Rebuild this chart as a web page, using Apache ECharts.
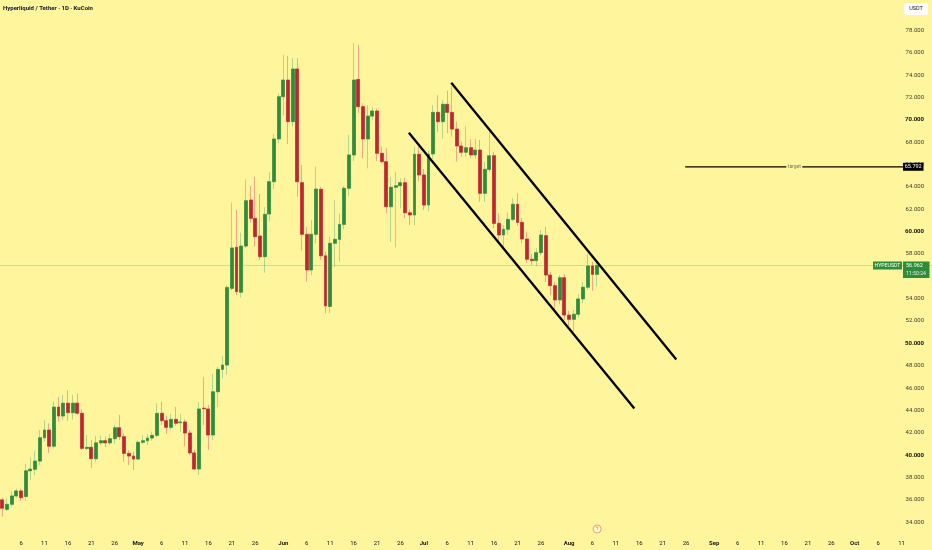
<!DOCTYPE html>
<html><head><meta charset="utf-8">
<script src="https://cdn.jsdelivr.net/npm/echarts@6/dist/echarts.min.js"></script>
<style>html,body{margin:0;padding:0;background:#fff59d}#c{width:932px;height:550px}</style>
</head><body><div id="c"></div>
<script>
// ---- data ----
const startDate = [2025, 3, 2];   // 2 Apr 2025 (month index 3)
const dayCount = 199;            // days shown on the time axis (candles + empty future space)
const lastLabelIndex = 192;      // time-axis labels stop before the price scale edge
const opens = [
 36.0,35.15,35.6,36.35,36.8,36.3,38.6,38.73,39.47,41.56,
 42.25,40.8,44.3,43.5,44.65,43.8,44.65,43.74,40.6,40.7,
 39.68,41.1,41.29,41.1,41.47,42.45,41.65,40.16,39.92,39.65,
 41.15,41.29,41.53,41.77,43.74,43.08,42.49,43.2,42.9,42.97,
 41.98,40.2,38.76,44.2,44.13,41.8,45.67,47.67,48.06,54.92,
 58.59,54.57,58.7,62.82,61.18,59.6,57.75,61.57,64.46,68.28,
 72.06,73.55,69.83,74.54,64.37,59.75,56.56,59.75,63.78,57.83,
 53.3,58.95,59.3,60.64,63.87,66.85,73.6,71.17,68.28,70.33,
 70.78,67.0,66.25,62.22,63.96,64.1,64.37,61.68,61.48,66.91,
 65.06,62.37,66.94,70.66,69.83,71.38,70.66,69.17,67.65,67.09,
 67.5,66.85,67.29,63.42,65.56,66.78,60.73,59.69,60.2,61.09,
 62.44,60.82,59.33,57.52,57.4,58.11,59.63,56.11,55.16,53.88,
 55.87,52.53,52.15,52.6,53.97,55.02,56.92,56.17];
const closes = [
 35.25,35.6,36.35,36.8,36.2,38.6,38.75,39.47,41.56,42.25,
 40.8,44.3,43.5,44.65,43.8,44.65,43.75,40.61,40.7,39.68,
 41.1,41.29,41.1,41.47,42.45,41.65,40.16,39.92,39.65,41.15,
 41.29,41.53,41.77,43.74,43.08,42.49,43.2,42.85,42.97,41.98,
 40.2,38.76,44.13,44.15,41.8,45.67,47.67,48.06,55.0,58.53,
 54.62,58.7,62.76,61.18,59.54,57.75,61.54,64.46,68.28,72.06,
 73.55,69.83,74.54,64.46,59.75,56.56,59.75,63.8,57.83,53.35,
 58.95,59.3,60.64,63.87,66.85,73.55,71.17,68.28,70.33,70.78,
 67.0,66.25,62.22,63.96,64.1,64.37,61.68,61.48,66.91,65.06,
 62.37,66.91,70.66,69.83,71.38,70.66,69.17,67.65,67.09,67.5,
 66.85,67.29,63.42,65.56,66.78,60.73,59.69,60.2,61.09,62.44,
 60.82,59.33,57.52,57.4,58.11,59.69,56.11,55.16,53.88,55.87,
 52.53,52.15,52.6,53.97,55.02,56.92,56.17,56.962];
const lows = [
 34.5,35.0,35.4,36.2,35.9,35.9,37.8,38.2,39.1,41.2,
 40.2,40.6,43.0,43.1,43.1,43.2,43.6,40.46,40.46,38.85,
 39.4,40.9,40.73,40.9,41.0,41.35,39.41,39.1,38.67,39.55,
 41.0,40.9,41.3,41.6,42.7,41.9,42.2,42.6,42.1,40.8,
 40.0,38.67,38.22,42.7,40.46,41.35,44.28,46.87,47.2,54.77,
 54.32,54.1,58.5,60.79,58.64,57.45,56.32,60.9,63.8,67.9,
 70.4,67.83,69.4,63.1,58.3,55.51,56.1,58.95,57.45,52.69,
 52.7,56.85,57.3,60.2,63.2,66.3,70.6,66.55,65.65,70.0,
 66.3,66.1,61.63,59.09,58.59,62.08,61.2,60.58,60.58,64.5,
 61.93,61.8,66.5,68.93,68.3,68.8,68.5,66.25,66.7,66.7,
 66.55,66.5,62.67,62.67,65.3,60.3,59.0,58.64,59.7,60.9,
 60.5,58.95,57.2,57.0,56.9,57.9,55.5,54.32,52.98,53.5,
 52.09,51.35,51.04,52.3,53.6,54.8,54.7,55.07];
const highs = [
 36.2,36.1,36.75,37.0,37.0,39.2,39.8,40.4,42.25,43.15,
 42.85,44.8,45.2,45.4,45.8,45.4,45.5,44.1,41.8,41.35,
 41.7,41.77,41.65,41.9,42.7,43.6,41.95,40.46,40.31,41.3,
 41.8,41.9,42.1,44.65,44.8,43.5,43.7,44.3,43.7,43.2,
 42.25,40.46,44.73,47.0,44.48,47.25,47.9,48.86,55.2,62.6,
 61.93,59.9,64.67,64.07,64.9,63.36,62.17,65.3,68.72,72.36,
 75.8,75.7,75.5,75.5,65.95,60.43,61.03,65.8,64.0,58.2,
 59.54,62.8,61.6,64.07,68.64,76.84,76.69,71.47,71.3,71.1,
 71.0,67.6,67.45,64.9,65.35,64.76,64.8,62.0,67.6,67.6,
 65.6,67.2,71.3,72.2,71.77,72.6,72.95,69.83,68.03,69.4,
 68.25,68.3,68.19,66.25,68.93,67.14,61.63,60.58,61.7,62.97,
 63.42,61.2,59.99,58.0,58.5,60.14,60.43,56.4,55.5,56.11,
 56.2,52.9,52.98,54.4,55.5,58.0,57.3,57.3];
const priceTicks = [34,36,38,40,42,44,46,48,50,52,54,56,58,60,62,64,66,68,70,72,74,76,78];
const boldTicks = [40,50,60,70];
const labelDays = [1,6,11,16,21,26];
const monthNames = ['Jan','Feb','Mar','Apr','May','Jun','Jul','Aug','Sep','Oct','Nov','Dec'];
// drawn lines, in [day index, price]
const upperChannel = [[95.85,73.31],[143.9,48.56]];
const lowerChannel = [[86.8,68.84],[134.95,44.18]];
const targetPrice = 65.792;
const targetLeft = [[145.8,targetPrice],[167.4,targetPrice]];
const targetRight = [[170.8,targetPrice],[192.3,targetPrice]];
const targetTextAt = [169.1,targetPrice];
const eventMark = [127,33.39];
const lastPrice = 56.962;
const symbolName = 'HYPEUSDT';
const countdown = '11:50:24';
const titleText = 'Hyperliquid / Tether · 1D · KuCoin';

// ---- build ----
const categories = [];
for (let i = 0; i < dayCount; i++) {
  const d = new Date(Date.UTC(startDate[0], startDate[1], startDate[2] + i));
  categories.push(d.getUTCFullYear() + '-' + String(d.getUTCMonth()+1).padStart(2,'0') + '-' + String(d.getUTCDate()).padStart(2,'0'));
}
const wickData = opens.map((o,i)=>[o, closes[i], lows[i], highs[i]]);
const bodyData = opens.map((o,i)=>[o, closes[i], Math.min(o,closes[i]), Math.max(o,closes[i])]);

const GREEN = '#2e8c3a', RED = '#c0262f', GW = '#b3d48a', RW = '#efa985';
const TXT = '#131722';
const FONT = 'Roboto, "Liberation Sans", sans-serif';

const chart = echarts.init(document.getElementById('c'));
chart.setOption({
  backgroundColor: '#fff59d',
  animation: false,
  textStyle: { fontFamily: FONT },
  grid: { left: -1, right: 0, top: 0, bottom: 20, containLabel: false },
  xAxis: [{
    type: 'category', data: categories, boundaryGap: true,
    axisLine: { show: false }, axisTick: { show: false }, splitLine: { show: false },
    axisLabel: {
      fontSize: 6, color: TXT, margin: 10, fontFamily: FONT,
      interval: (idx, val) => idx <= lastLabelIndex && labelDays.indexOf(+val.slice(8)) >= 0,
      formatter: (val) => {
        const day = +val.slice(8);
        if (day === 1) return '{m|' + monthNames[+val.slice(5,7)-1] + '}';
        return String(day);
      },
      rich: { m: { fontWeight: 'bold', fontSize: 6, color: TXT, fontFamily: FONT } }
    }
  }, {
    type: 'value', min: -0.5, max: dayCount - 0.5, show: false
  }],
  yAxis: {
    type: 'value', position: 'right', min: 33.305, max: 80.71, scale: true,
    axisLine: { show: false }, axisTick: { show: false }, splitLine: { show: false },
    axisLabel: {
      inside: true, margin: 8, fontSize: 6, color: '#3c3c30', fontFamily: FONT,
      customValues: priceTicks,
      formatter: (v) => boldTicks.indexOf(Math.round(v)) >= 0 ? '{b|' + v.toFixed(3) + '}' : v.toFixed(3),
      rich: { b: { fontWeight: 'bold', fontSize: 6, color: '#111', fontFamily: FONT } }
    }
  },
  series: [{
    type: 'candlestick', name: 'wick', data: wickData, barWidth: 3.4, z: 2,
    itemStyle: { color: GW, color0: RW, borderColor: GW, borderColor0: RW, borderWidth: 1 }
  }, {
    type: 'candlestick', name: 'body', data: bodyData, barWidth: 3.4, z: 3,
    itemStyle: { color: GREEN, color0: RED, borderColor: GREEN, borderColor0: RED, borderWidth: 0.6 },
    markLine: {
      silent: true, symbol: 'none', label: { show: false },
      lineStyle: { color: 'rgba(46,140,58,0.22)', width: 1, type: 'solid' },
      data: [{ yAxis: lastPrice }]
    }
  }, {
    type: 'line', xAxisIndex: 1, data: upperChannel, symbol: 'none', z: 5,
    lineStyle: { color: '#000', width: 2.3 }
  }, {
    type: 'line', xAxisIndex: 1, data: lowerChannel, symbol: 'none', z: 5,
    lineStyle: { color: '#000', width: 2.3 }
  }, {
    type: 'line', xAxisIndex: 1, data: targetLeft, symbol: 'none', z: 5,
    lineStyle: { color: '#000', width: 1.3 }
  }, {
    type: 'line', xAxisIndex: 1, data: targetRight, symbol: 'none', z: 5,
    lineStyle: { color: '#000', width: 1.3 }
  }, {
    type: 'scatter', xAxisIndex: 1, data: [targetTextAt], symbolSize: 0, z: 5,
    label: { show: true, position: 'inside', formatter: 'target', fontSize: 5, color: '#555', fontFamily: FONT }
  }, {
    type: 'scatter', xAxisIndex: 1, data: [eventMark], symbol: 'circle', symbolSize: 8, clip: false, z: 5,
    itemStyle: { color: '#fffbe0', borderColor: '#df6a3e', borderWidth: 0.8 },
    label: { show: true, position: 'inside', formatter: 'ϟ', fontSize: 5, color: '#df6a3e' }
  }]
});

const py = chart.convertToPixel({ yAxisIndex: 0 }, lastPrice);
const ty = chart.convertToPixel({ yAxisIndex: 0 }, targetPrice);
chart.setOption({
  graphic: [
    { type: 'text', left: 3, top: 5, z: 100, style: { text: titleText, fontSize: 6, fontWeight: 'bold', fill: TXT, fontFamily: FONT } },
    { type: 'rect', z: 100, shape: { x: 904, y: 3, width: 24, height: 12, r: 2 }, style: { fill: '#ffffff' } },
    { type: 'text', z: 101, x: 916, y: 9, style: { text: 'USDT', fontSize: 5.5, fill: TXT, align: 'center', verticalAlign: 'middle', fontFamily: FONT } },
    { type: 'rect', z: 100, shape: { x: 873, y: py - 4, width: 29, height: 8 }, style: { fill: GREEN } },
    { type: 'text', z: 101, x: 887.5, y: py, style: { text: symbolName, fontSize: 5.2, fill: '#fff', align: 'center', verticalAlign: 'middle', fontFamily: FONT } },
    { type: 'rect', z: 100, shape: { x: 903, y: py - 4, width: 26.5, height: 16.5 }, style: { fill: GREEN } },
    { type: 'text', z: 101, x: 906, y: py, style: { text: lastPrice.toFixed(3), fontSize: 5.5, fill: '#fff', align: 'left', verticalAlign: 'middle', fontFamily: FONT } },
    { type: 'text', z: 101, x: 906, y: py + 8, style: { text: countdown, fontSize: 5.2, fill: '#e6f2e6', align: 'left', verticalAlign: 'middle', fontFamily: FONT } },
    { type: 'rect', z: 100, shape: { x: 903, y: ty - 4, width: 20.5, height: 8 }, style: { fill: '#000' } },
    { type: 'text', z: 101, x: 913.2, y: ty, style: { text: targetPrice.toFixed(3), fontSize: 5.5, fill: '#fff', align: 'center', verticalAlign: 'middle', fontFamily: FONT } }
  ]
});
</script></body></html>
